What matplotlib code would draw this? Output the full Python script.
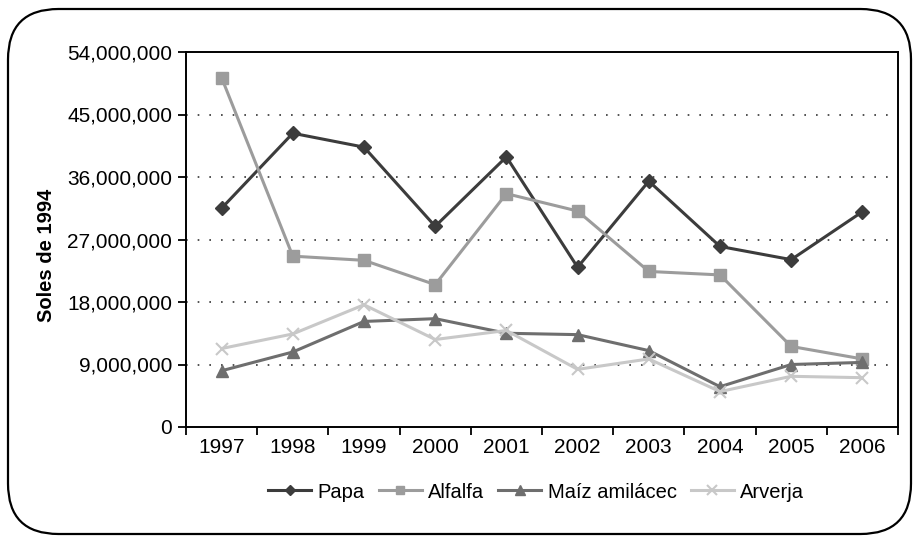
import numpy as np
import matplotlib.pyplot as plt
from matplotlib.patches import FancyBboxPatch
from matplotlib.ticker import FuncFormatter, FixedLocator

plt.rcParams['font.family'] = ['Liberation Sans', 'DejaVu Sans']

# data
years = ['1997', '1998', '1999', '2000', '2001', '2002', '2003', '2004', '2005', '2006']
papa = [31.5, 42.3, 40.3, 28.9, 38.9, 23.0, 35.4, 26.0, 24.1, 31.0]
alfalfa = [50.3, 24.6, 24.0, 20.5, 33.6, 31.1, 22.4, 21.9, 11.6, 9.8]
maiz = [8.1, 10.8, 15.2, 15.6, 13.5, 13.3, 11.0, 5.8, 9.0, 9.3]
arverja = [11.3, 13.4, 17.6, 12.6, 13.9, 8.3, 9.8, 5.1, 7.3, 7.1]
series_names = ['Papa', 'Alfalfa', 'Maíz amilácec', 'Arverja']

fig = plt.figure(figsize=(9.18, 5.36), dpi=100)
W, H = 918, 536

# rounded outer frame
frame = FancyBboxPatch((8 / W, 2 / H), 903 / W, 525 / H,
                       boxstyle='round,pad=0,rounding_size=0.055',
                       transform=fig.transFigure, fill=False,
                       edgecolor='black', linewidth=1.6, mutation_aspect=W / H)
fig.patches.append(frame)

ax = fig.add_axes([186 / W, 1 - 427 / H, 712 / W, 375 / H])
x = np.arange(len(years))
scale = 1e6

ax.plot(x, np.array(papa) * scale, color='#3c3c3c', lw=2.2, marker='D', ms=7, label=series_names[0])
ax.plot(x, np.array(alfalfa) * scale, color='#9c9c9c', lw=2.2, marker='s', ms=8, label=series_names[1])
ax.plot(x, np.array(maiz) * scale, color='#6e6e6e', lw=2.2, marker='^', ms=9, label=series_names[2])
ax.plot(x, np.array(arverja) * scale, color='#c8c8c8', lw=2.2, marker='x', ms=9, mew=1.5, label=series_names[3])

ax.set_xlim(-0.5, len(years) - 0.5)
ax.set_ylim(0, 54e6)
ax.set_yticks(np.arange(0, 54e6 + 1, 9e6))
ax.yaxis.set_major_formatter(FuncFormatter(lambda v, p: f'{int(v):,}'))

ax.xaxis.set_major_locator(FixedLocator(np.arange(-0.5, len(years), 1.0)))
ax.xaxis.set_major_formatter(FuncFormatter(lambda v, p: ''))
ax.set_xticks(x, minor=True)
ax.set_xticklabels(years, minor=True)
ax.tick_params(axis='x', which='minor', length=0, pad=8, labelsize=15)
ax.tick_params(axis='x', which='major', length=6, width=1.3, direction='out')
ax.tick_params(axis='y', length=6, width=1.3, direction='out', labelsize=15, pad=4)

for yv in np.arange(9e6, 54e6, 9e6):
    ax.axhline(yv, color='#333333', lw=1.2, linestyle=(0, (1, 6)), zorder=0)

for s in ax.spines.values():
    s.set_linewidth(1.4)

ax.set_ylabel('Soles de 1994', fontsize=14.5, fontweight='bold')
ax.yaxis.set_label_coords(-0.183, 0.459)

fig.legend(loc='center', bbox_to_anchor=(536 / W, 1 - 492 / H), ncol=4, frameon=False,
           fontsize=14.5, handlelength=2.15, columnspacing=0.7, handletextpad=0.3,
           markerscale=0.8)

fig.savefig('out.png', dpi=100)
